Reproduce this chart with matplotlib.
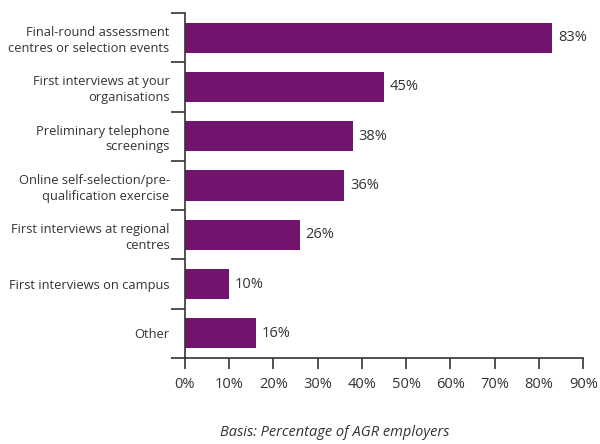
import numpy as np
import matplotlib.pyplot as plt

categories = [
    "Final-round assessment\ncentres or selection events",
    "First interviews at your\norganisations",
    "Preliminary telephone\nscreenings",
    "Online self-selection/pre-\nqualification exercise",
    "First interviews at regional\ncentres",
    "First interviews on campus",
    "Other",
]
values = [83, 45, 38, 36, 26, 10, 16]
xticks = list(range(0, 100, 10))

purple = "#72136E"
ink = "#333333"

plt.rcParams["font.family"] = ["Open Sans", "DejaVu Sans"]

fig = plt.figure(figsize=(6, 4.44), dpi=100)
ax = fig.add_axes([0.308, 0.1937, 0.664, 0.777])

n = len(categories)
pos = np.arange(n)
ax.barh(pos, values, height=0.61, color=purple)
for p, v in zip(pos, values):
    ax.text(v + 1.3, p, f"{v}%", va="center", ha="left", fontsize=10.5, color=ink)

ax.set_xlim(0, 90)
ax.set_ylim(n - 0.5, -0.5)
ax.set_xticks(xticks)
ax.set_xticklabels([f"{t}%" for t in xticks], fontsize=10.5, color=ink)

# category labels sit between the boundary ticks
ax.set_yticks(np.arange(-0.5, n, 1.0))
ax.set_yticklabels([])
ax.set_yticks(pos, minor=True)
ax.set_yticklabels(categories, minor=True, fontsize=9.3, color=ink,
                   linespacing=1.25)
ax.tick_params(axis="y", which="minor", length=0, pad=11)
ax.tick_params(axis="y", which="major", length=10, width=1.2, color=ink)
ax.tick_params(axis="x", length=8, width=1.2, color=ink, pad=6)

for side in ["top", "right"]:
    ax.spines[side].set_visible(False)
for side in ["left", "bottom"]:
    ax.spines[side].set_color(ink)
    ax.spines[side].set_linewidth(1.2)

fig.text(0.557, 0.008, "Basis: Percentage of AGR employers", ha="center",
         va="bottom", fontsize=10.5, style="italic", color=ink)

fig.savefig("out.png", dpi=100)
